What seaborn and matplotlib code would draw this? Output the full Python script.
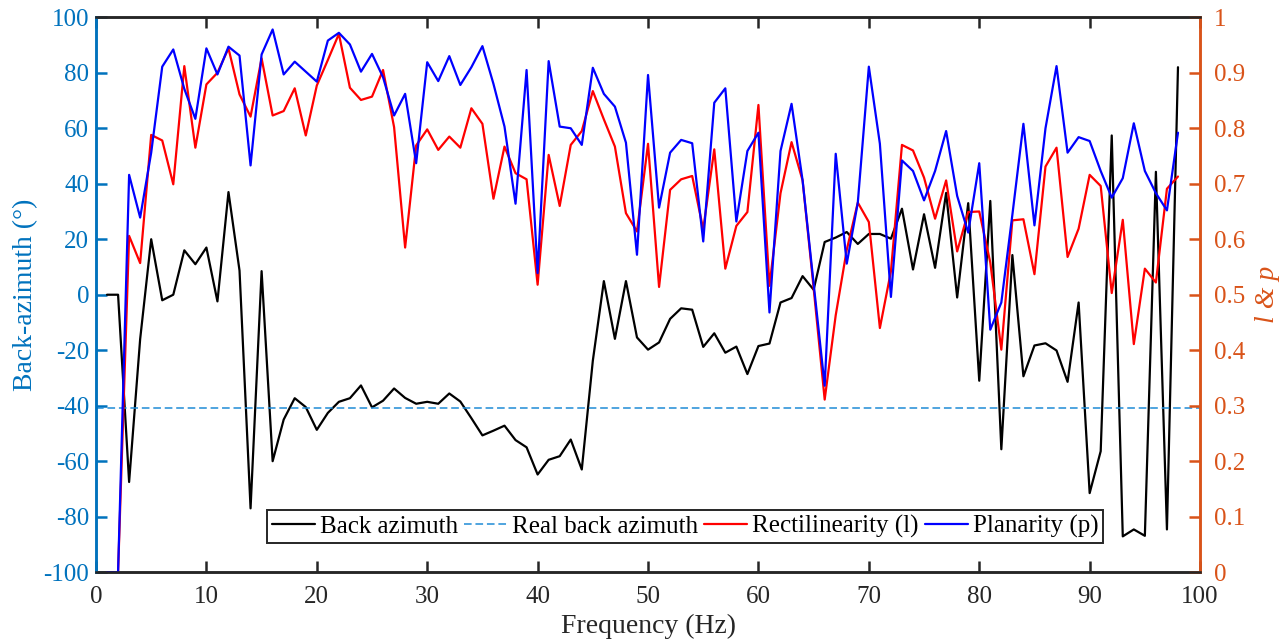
import matplotlib
matplotlib.use("Agg")
import matplotlib.pyplot as plt
import numpy as np
import pandas as pd
import seaborn as sns

# frequencies (Hz)
freq = list(range(1, 99))

# back azimuth (deg)
back_azimuth = [
    0, 0, -67.5, -16, 20, -2, 0, 16, 11, 17,
    -2.4, 37, 8.7, -77, 8.5, -60, -45, -37.3, -40.5, -48.7,
    -42.6, -38.6, -37.3, -32.7, -40.6, -38.2, -33.8, -37.2, -39.3, -38.6,
    -39.3, -35.6, -38.5, -44.5, -50.7, -49, -47.2, -52.4, -55, -64.8,
    -59.5, -58.2, -52.2, -63, -23.8, 4.9, -15.9, 4.9, -15.4, -19.8,
    -17.2, -8.7, -4.9, -5.4, -18.8, -13.9, -20.9, -18.7, -28.6, -18.5,
    -17.6, -2.8, -1.2, 6.7, 1.8, 19, 20.6, 22.6, 18.3, 21.9,
    21.9, 20.2, 31, 9.1, 29, 9.7, 36.7, -1, 33, -31,
    33.8, -55.7, 14.3, -29.4, -18.3, -17.5, -20.1, -31.4, -2.8, -71.5,
    -56.4, 57.4, -87.1, -84.6, -86.9, 44.3, -84.6, 82,
]

real_back_azimuth = -41

# rectilinearity (l)
rectilinearity = [
    0, 0, 0.606, 0.557, 0.788, 0.778, 0.699, 0.912, 0.765, 0.879,
    0.900, 0.944, 0.861, 0.821, 0.926, 0.823, 0.831, 0.872, 0.787, 0.877,
    0.923, 0.970, 0.873, 0.851, 0.857, 0.905, 0.802, 0.585, 0.769, 0.798,
    0.761, 0.785, 0.765, 0.836, 0.808, 0.673, 0.767, 0.719, 0.708, 0.518,
    0.752, 0.660, 0.770, 0.795, 0.867, 0.816, 0.767, 0.647, 0.614, 0.772,
    0.514, 0.689, 0.708, 0.714, 0.618, 0.762, 0.547, 0.624, 0.649, 0.842,
    0.516, 0.683, 0.775, 0.706, 0.512, 0.311, 0.463, 0.581, 0.666, 0.631,
    0.440, 0.542, 0.770, 0.760, 0.711, 0.637, 0.706, 0.578, 0.649, 0.650,
    0.558, 0.401, 0.634, 0.636, 0.537, 0.731, 0.765, 0.568, 0.619, 0.716,
    0.696, 0.503, 0.635, 0.411, 0.547, 0.522, 0.691, 0.713,
]

# planarity (p)
planarity = [
    0, 0, 0.716, 0.639, 0.756, 0.911, 0.942, 0.871, 0.817, 0.944,
    0.897, 0.947, 0.931, 0.733, 0.933, 0.978, 0.897, 0.920, 0.902, 0.884,
    0.958, 0.972, 0.951, 0.902, 0.934, 0.892, 0.823, 0.862, 0.737, 0.919,
    0.885, 0.930, 0.878, 0.910, 0.948, 0.880, 0.803, 0.664, 0.905, 0.539,
    0.921, 0.803, 0.800, 0.770, 0.909, 0.862, 0.839, 0.774, 0.572, 0.896,
    0.657, 0.756, 0.779, 0.773, 0.596, 0.846, 0.872, 0.632, 0.759, 0.792,
    0.468, 0.759, 0.844, 0.706, 0.520, 0.336, 0.754, 0.556, 0.666, 0.911,
    0.772, 0.496, 0.742, 0.723, 0.670, 0.723, 0.795, 0.678, 0.612, 0.737,
    0.437, 0.486, 0.644, 0.808, 0.625, 0.800, 0.912, 0.756, 0.784, 0.777,
    0.723, 0.675, 0.710, 0.809, 0.723, 0.683, 0.652, 0.792,
]

left_ticks = [-100, -80, -60, -40, -20, 0, 20, 40, 60, 80, 100]
right_ticks = [0, 0.1, 0.2, 0.3, 0.4, 0.5, 0.6, 0.7, 0.8, 0.9, 1]
right_labels = ['0', '0.1', '0.2', '0.3', '0.4', '0.5', '0.6', '0.7', '0.8', '0.9', '1']

df = pd.DataFrame({'freq': freq, 'baz': back_azimuth,
                   'l': rectilinearity, 'p': planarity})

sns.set_style("white")
plt.rcParams['font.family'] = ['Liberation Serif', 'DejaVu Serif']
plt.rcParams['axes.unicode_minus'] = False

c_left = '#0072BD'
c_right = '#D95319'
c_axis = '#262626'

fig = plt.figure(figsize=(12.85, 6.4), dpi=100)
ax = fig.add_axes([0.0747, 0.106, 0.8592, 0.867])
ax2 = ax.twinx()

sns.lineplot(data=df, x='freq', y='baz', ax=ax, color='black', lw=1.6,
             label='Back azimuth', legend=False)
ax.axhline(real_back_azimuth, color='#1f8bd6', lw=1.1, ls=(0, (5, 2.5)),
           label='Real back azimuth')
sns.lineplot(data=df, x='freq', y='l', ax=ax2, color='red', lw=1.6,
             label='Rectilinearity (l)', legend=False)
sns.lineplot(data=df, x='freq', y='p', ax=ax2, color='blue', lw=1.6,
             label='Planarity (p)', legend=False)

ax.set_xlim(0, 100)
ax.set_ylim(-100, 100)
ax2.set_ylim(0, 1)
ax.set_xticks(range(0, 101, 10))
ax.set_yticks(left_ticks)
ax2.set_yticks(right_ticks)
ax2.set_yticklabels(right_labels)

ax.set_xlabel('Frequency (Hz)', fontsize=20, color=c_axis, labelpad=4)
ax.set_ylabel('Back-azimuth (°)', fontsize=20, color=c_left, labelpad=4)
ax2.set_ylabel('l & p', fontsize=20, color=c_right, fontstyle='italic',
               labelpad=7)

ax.tick_params(axis='x', direction='in', top=True, bottom=True, length=8,
               width=1.8, colors=c_axis, labelsize=18, pad=10)
ax.tick_params(axis='y', direction='in', left=True, right=False, length=8,
               width=1.8, colors=c_left, labelsize=18, pad=5)
ax2.tick_params(axis='y', direction='in', right=True, length=8, width=1.8,
                colors=c_right, labelsize=18, pad=10)

for a in (ax, ax2):
    a.spines['top'].set_color(c_axis)
    a.spines['bottom'].set_color(c_axis)
    a.spines['left'].set_color(c_left)
    a.spines['right'].set_color(c_right)
    for s in a.spines.values():
        s.set_linewidth(1.8)

h1, l1 = ax.get_legend_handles_labels()
h2, l2 = ax2.get_legend_handles_labels()
leg = ax2.legend(h1 + h2, l1 + l2, loc='center', ncol=4,
                 bbox_to_anchor=(0.5335, 0.082), fontsize=18, frameon=True,
                 fancybox=False, edgecolor=c_axis, handlelength=1.72,
                 handletextpad=0.2, columnspacing=0.24, borderpad=0.2,
                 borderaxespad=0.2, labelcolor='black')
leg.get_frame().set_linewidth(1.4)
leg.get_frame().set_alpha(1)

fig.savefig('out.png', dpi=100)
